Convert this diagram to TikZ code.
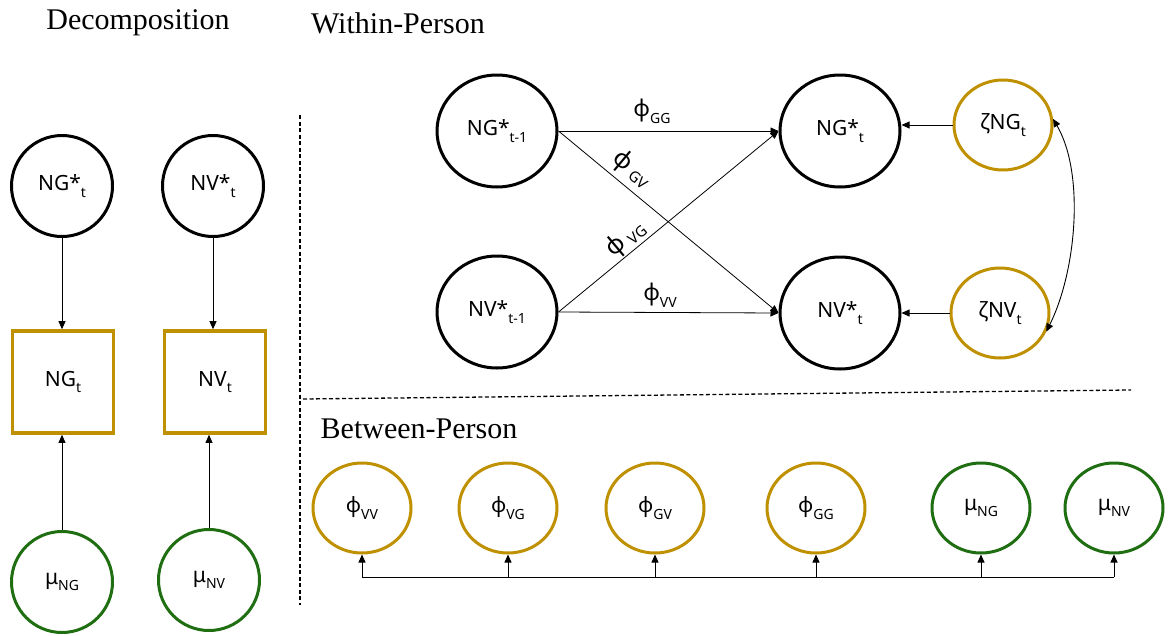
\documentclass[tikz,border=0pt]{standalone}
\usepackage{fontspec}
\setmainfont{Noto Sans}
\newfontfamily\titlefont{Liberation Serif}
\usetikzlibrary{shapes.geometric,arrows.meta}
\definecolor{gold}{HTML}{BF9000}
\definecolor{dgreen}{HTML}{1F6E12}
\newcommand\sbs[1]{\raisebox{-0.3em}{\fontsize{14}{14}\selectfont #1}}
\newcommand\sbl[1]{\raisebox{-0.12em}{\fontsize{15}{15}\selectfont #1}}
\begin{document}
\begin{tikzpicture}[x=1pt,y=-1pt,
  lat/.style={ellipse,draw,line width=3pt,inner sep=0pt,font=\fontsize{21}{24}\selectfont},
  big/.style={lat,minimum width=120pt,minimum height=112pt},
  mid/.style={lat,minimum width=101pt,minimum height=101pt},
  sml/.style={lat,minimum width=98pt,minimum height=90pt},
  goldc/.style={draw=gold},
  greenc/.style={draw=dgreen},
  obs/.style={rectangle,draw=gold,line width=3.6pt,minimum width=101pt,minimum height=102pt,inner sep=0pt,font=\fontsize{21}{24}\selectfont},
  tip/.tip={Triangle[length=8pt,width=7pt]},
  conn/.style={-tip,line width=0.8pt},
  lbl/.style={inner sep=1pt,font=\fontsize{21}{24}\selectfont},
  ttl/.style={font=\titlefont\fontsize{30}{34}\selectfont,inner sep=0pt},
  sep/.style={line width=1.3pt,dash pattern=on 4pt off 2.5pt}]
\useasboundingbox (0,0) rectangle (1168,635);

% titles
\node[ttl] (t1) at (138,23) {Decomposition};
\node[ttl] (t2) at (398,23) {Within-Person};
\node[ttl] (t3) at (419,429) {Between-Person};

% separators
\coordinate (v1) at (300,115);
\coordinate (v2) at (300,605);
\coordinate (h1) at (303,399);
\coordinate (h2) at (1131,390);
\draw[sep] (v1) -- (v2);
\draw[sep] (h1) -- (h2);

% decomposition
\node[mid] (ngs) at (62,186) {NG*\sbs{t}};
\node[mid] (nvs) at (213,186) {NV*\sbs{t}};
\node[obs] (ng) at (63,382) {NG\sbs{t}};
\node[obs] (nv) at (215,382) {NV\sbs{t}};
\node[mid,greenc] (mng1) at (62,582) {μ\sbs{NG}};
\node[mid,greenc] (mnv1) at (209,580) {μ\sbs{NV}};
\draw[conn] (ngs.south) -- (ngs.south|-ng.north);
\draw[conn] (nvs.south) -- (nvs.south|-nv.north);
\draw[conn] (mng1.north) -- (mng1.north|-ng.south);
\draw[conn] (mnv1.north) -- (mnv1.north|-nv.south);

% within-person
\node[big] (ngp) at (497,131) {NG*\sbs{t-1}};
\node[big] (nvp) at (497,312) {NV*\sbs{t-1}};
\node[big] (ngc) at (840,131) {NG*\sbs{t}};
\node[big] (nvc) at (840,313) {NV*\sbs{t}};
\node[sml,goldc] (zng) at (1003,125) {ζNG\sbs{t}};
\node[sml,goldc] (znv) at (1000,313) {ζNV\sbs{t}};

\draw[conn] (ngp.east) -- (ngc.west);
\draw[conn] (ngp.east) -- (nvc.west);
\draw[conn] (nvp.east) -- (ngc.west);
\draw[conn] (nvp.east) -- (nvc.west);
\draw[conn] (zng.west) -- (zng.west-|ngc.east);
\draw[conn] (znv.west) -- (znv.west-|nvc.east);
\draw[tip-tip,line width=0.9pt]
  (zng.7) .. controls +(32,55) and +(30,-60) .. (znv.-22);

\node[lbl] (lgg) at (652,111) {\fontsize{23}{24}\selectfont ϕ\sbs{GG}};
\node[lbl] (lvv) at (660,295) {\fontsize{23}{24}\selectfont ϕ\sbs{VV}};
\node[lbl,rotate=-40,inner sep=0pt] (lgv) at (632,169) {\fontsize{25}{26}\selectfont ϕ\hspace{5pt}\sbl{GV}};
\node[lbl,rotate=40,inner sep=0pt] (lvg) at (626,239) {\fontsize{25}{26}\selectfont ϕ\hspace{5pt}\sbl{VG}};

% between-person
\node[sml,goldc] (pvv) at (362,508) {ϕ\sbs{VV}};
\node[sml,goldc] (pvg) at (508,508) {ϕ\sbs{VG}};
\node[sml,goldc] (pgv) at (655,508) {ϕ\sbs{GV}};
\node[sml,goldc] (pgg) at (816,508) {ϕ\sbs{GG}};
\node[sml,greenc] (mng) at (981,508) {μ\sbs{NG}};
\node[sml,greenc] (mnv) at (1114,508) {μ\sbs{NV}};
\coordinate (bl) at (363,577);
\draw[line width=0.8pt] (pvv.south|-bl) -- (mnv.south|-bl);
\foreach \n in {pvv,pvg,pgv,pgg,mng,mnv}
  \draw[conn] (\n.south|-bl) -- (\n.south);
\end{tikzpicture}
\end{document}
